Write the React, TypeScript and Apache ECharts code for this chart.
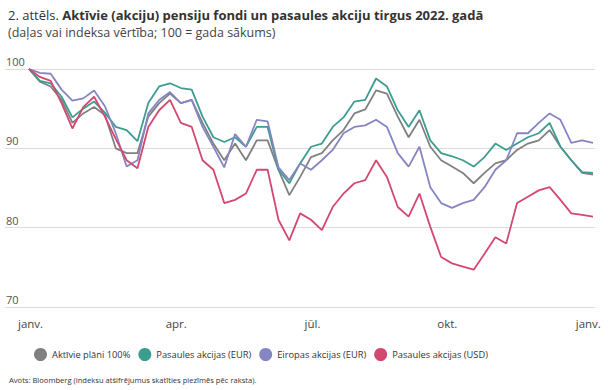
import React, { useEffect, useRef } from "react";
import * as echarts from "echarts";

const days: number[] = Array.from({ length: 53 }, (_, i) => i * 7);

const gray = [100, 98.4, 97.8, 96.1, 93.2, 94.4, 95.2, 94.2, 90.0, 89.4, 89.4, 94.0, 95.7, 96.9, 95.7, 96.1, 93.2, 90.6, 88.5, 90.6, 88.5, 91.0, 91.0, 87.3, 84.1, 86.4, 88.9, 89.4, 91.0, 92.3, 94.4, 94.9, 97.3, 96.9, 94.0, 91.4, 93.6, 90.2, 88.5, 87.7, 86.9, 85.6, 86.9, 88.1, 88.5, 89.8, 90.6, 91.0, 92.3, 90.2, 88.5, 86.9, 86.7];
const teal = [100, 98.5, 98.2, 96.5, 93.9, 95.0, 95.9, 94.5, 92.7, 92.3, 90.9, 95.7, 97.8, 98.2, 97.6, 97.4, 94.0, 91.4, 90.8, 91.4, 90.2, 92.7, 92.7, 87.3, 85.6, 88.1, 90.2, 90.6, 92.7, 93.9, 95.9, 96.1, 98.8, 97.8, 94.8, 92.7, 94.8, 91.0, 89.4, 89.0, 88.5, 87.7, 88.9, 90.6, 89.8, 90.6, 91.4, 91.9, 93.2, 90.2, 88.5, 87.0, 86.9];
const lavender = [100, 99.5, 99.4, 97.4, 96.0, 96.3, 97.3, 95.3, 91.9, 87.7, 88.5, 94.4, 96.1, 97.1, 95.7, 96.1, 92.7, 90.2, 87.6, 91.8, 90.2, 93.6, 93.4, 87.6, 86.0, 88.1, 87.3, 88.5, 89.8, 91.9, 92.7, 92.9, 93.6, 92.7, 89.4, 87.7, 90.2, 85.1, 83.1, 82.5, 83.1, 83.5, 85.1, 87.3, 88.5, 91.9, 91.9, 93.2, 94.4, 93.6, 90.7, 91.0, 90.7];
const pink = [100, 99.0, 98.5, 95.7, 92.5, 95.2, 96.5, 94.0, 91.2, 88.5, 87.5, 92.7, 94.8, 96.1, 93.2, 92.7, 88.5, 87.3, 83.1, 83.5, 84.3, 87.3, 87.3, 81.0, 78.4, 81.8, 81.0, 79.7, 82.6, 84.3, 85.6, 86.0, 88.5, 86.4, 82.6, 81.4, 84.3, 80.1, 76.3, 75.5, 75.1, 74.7, 76.7, 78.8, 78.0, 83.1, 83.9, 84.7, 85.1, 83.5, 81.8, 81.6, 81.4];

const seriesNames = ["Aktīvie plāni 100%", "Pasaules akcijas (EUR)", "Eiropas akcijas (EUR)", "Pasaules akcijas (USD)"];
const seriesValues = [gray, teal, lavender, pink];
const seriesColors = ["#808080", "#3d9c90", "#8585c4", "#d3486f"];

const monthTickValues = [1, 95, 183, 270, 361];
const monthLabels = ["janv.", "apr.", "jūl.", "okt.", "janv."];

const FONT = "'Open Sans', 'Noto Sans', sans-serif";

export default function App() {
  const ref = useRef<HTMLDivElement>(null);
  useEffect(() => {
    if (!ref.current) return;
    const chart = echarts.init(ref.current, undefined, { renderer: "svg" });
    chart.setOption({
      animation: false,
      textStyle: { fontFamily: FONT },
      title: [
        {
          left: 3,
          top: 3,
          text: "{a|2. attēls. }{b|Aktīvie (akciju) pensiju fondi un pasaules akciju tirgus 2022. gadā}",
          textStyle: {
            rich: {
              a: { fontFamily: FONT, fontSize: 13, fontWeight: "normal", color: "#333" },
              b: { fontFamily: FONT, fontSize: 13, fontWeight: "bold", color: "#333" },
            },
          },
          subtext: "(daļas vai indeksa vērtība; 100 = gada sākums)",
          itemGap: 5,
          subtextStyle: { fontFamily: FONT, fontSize: 12.5, color: "#444" },
        },
        {
          left: 4,
          top: 371,
          text: "Avots: Bloomberg (indeksu atšifrējumus skatīties piezīmēs pēc raksta).",
          textStyle: { fontFamily: FONT, fontSize: 7.6, fontWeight: "normal", color: "#333" },
        },
      ],
      legend: {
        left: 29,
        top: 343,
        icon: "circle",
        itemWidth: 13,
        itemHeight: 13,
        itemGap: 8,
        textStyle: { fontFamily: FONT, fontSize: 9.3, color: "#333" },
        data: seriesNames,
      },
      grid: { left: 5, right: 13, top: 69, bottom: 83 },
      xAxis: {
        type: "value",
        min: -15.5,
        max: 365.3,
        axisLine: { show: false },
        axisTick: { show: false },
        splitLine: { show: false },
        axisLabel: {
          customValues: monthTickValues,
          formatter: (v: number) => {
            const i = monthTickValues.indexOf(v);
            return i >= 0 ? monthLabels[i] : "";
          },
          margin: 10,
          fontFamily: FONT,
          fontSize: 11.5,
          color: "#444",
        },
      },
      yAxis: {
        type: "value",
        min: 70,
        max: 100,
        interval: 10,
        axisLine: { show: false },
        axisTick: { show: false },
        splitLine: { lineStyle: { color: "#dcdcdc", width: 1 } },
        axisLabel: {
          inside: true,
          margin: 1,
          align: "left",
          verticalAlign: "bottom",
          padding: [0, 0, 2, 0],
          fontFamily: FONT,
          fontSize: 11,
          color: "#555",
        },
      },
      series: seriesNames.map((name, k) => ({
        name,
        type: "line",
        symbol: "none",
        data: days.map((d, i) => [d, seriesValues[k][i]]),
        lineStyle: { color: seriesColors[k], width: 1.8 },
        itemStyle: { color: seriesColors[k] },
      })),
    });
    return () => chart.dispose();
  }, []);
  return (
    <div
      ref={ref}
      style={{ position: "absolute", left: 0, top: 0, width: 608, height: 390 }}
    />
  );
}
